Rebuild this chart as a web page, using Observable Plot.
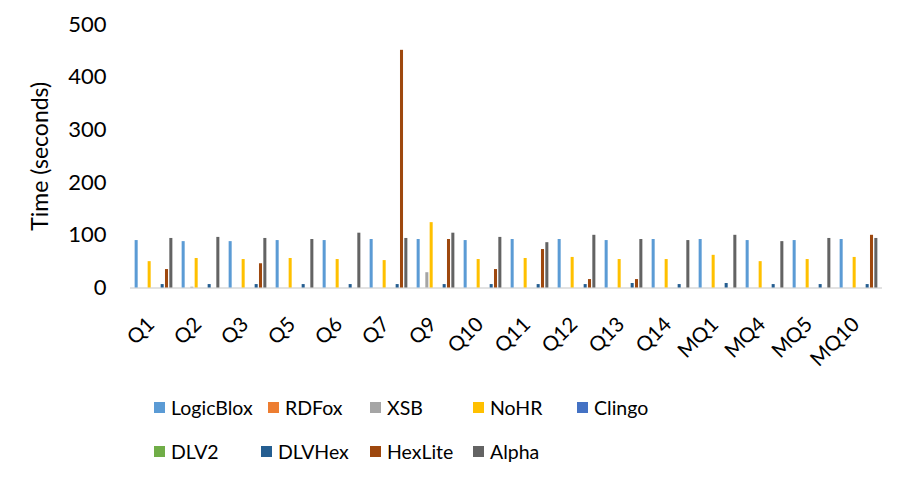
<!DOCTYPE html>
<html>
<head>
<meta charset="utf-8">
<script src="https://cdn.jsdelivr.net/npm/d3@7"></script>
<script src="https://cdn.jsdelivr.net/npm/@observablehq/plot@0.6"></script>
<style>
  html, body { margin: 0; padding: 0; background: #fff; }
  #wrap { position: relative; width: 907px; height: 479px; font-family: Lato, "Open Sans", sans-serif; }
  #chart { position: absolute; left: 0; top: 0; }
  .leg { position: absolute; display: flex; align-items: center; font-size: 19.5px; color: #000; white-space: nowrap; }
  .sw { width: 11px; height: 11px; margin-right: 6px; }
</style>
</head>
<body>
<div id="wrap"><div id="chart"></div></div>
<script>
const categories = ["Q1","Q2","Q3","Q5","Q6","Q7","Q9","Q10","Q11","Q12","Q13","Q14","MQ1","MQ4","MQ5","MQ10"];
const seriesNames = ["LogicBlox","RDFox","XSB","NoHR","Clingo","DLV2","DLVHex","HexLite","Alpha"];
const seriesColors = ["#5B9BD5","#ED7D31","#A5A5A5","#FFC000","#4472C4","#70AD47","#255E91","#9E480E","#636363"];
const yTicks = [0,100,200,300,400,500];

const LogicBlox = [90,88,88,90,90,92,92,90,92,92,90,92,92,90,90,92];
const RDFox     = [0,0,0,0,0,0,0,0,0,0,0,0,0,0,0,0];
const XSB       = [0,1.5,0,0,0,0,29,0,0,0,0,0,0,0,0,0];
const NoHR      = [50,56,54,56,54,52,124,54,56,58,54,54,62,50,54,58];
const Clingo    = [0,0,0,0,0,0,0,0,0,0,0,0,0,0,0,0];
const DLV2      = [0,0,0,0,0,0,0,0,0,0,0,0,0,0,0,0];
const DLVHex    = [6.5,6.5,6.5,6.5,6.5,6.5,6.5,6.5,6.5,6.5,8.5,6.5,8.5,6.5,6.5,6.5];
const HexLite   = [35,0,46,0,0,451,92,35,73,16,16,0,0,0,0,100];
const Alpha     = [94,96,94,92,104,94,104,96,86,100,92,90,100,88,94,94];

const seriesValues = [LogicBlox, RDFox, XSB, NoHR, Clingo, DLV2, DLVHex, HexLite, Alpha];
const data = [];
categories.forEach((c, i) => {
  seriesNames.forEach((s, j) => data.push({cat: c, series: s, value: seriesValues[j][i]}));
});

const chart = Plot.plot({
  width: 907,
  height: 385,
  marginLeft: 127,
  marginRight: 22,
  marginTop: 24,
  marginBottom: 97.5,
  style: {fontFamily: "Lato, 'Open Sans', sans-serif", color: "#000", background: "#fff"},
  fx: {domain: categories, padding: 0},
  x: {domain: seriesNames, paddingInner: 0.3, paddingOuter: 1.07, round: false, axis: null},
  y: {domain: [0, 500]},
  color: {domain: seriesNames, range: seriesColors},
  marks: [
    Plot.axisY({ticks: yTicks, tickSize: 0, tickPadding: 24, fontSize: 22, fill: "#000",
      label: "Time (seconds)", labelAnchor: "center", labelArrow: false, labelOffset: 99}),
    Plot.axisFx({anchor: "bottom", tickRotate: -45, tickSize: 0, tickPadding: 33, dx: -3, fontSize: 20.5, fill: "#000", label: null}),
    Plot.ruleY([0], {stroke: "#d9d9d9", strokeWidth: 1.5}),
    Plot.barY(data, {fx: "cat", x: "series", y: "value", fill: "series"})
  ]
});
document.getElementById("chart").appendChild(chart);
// enlarge y-axis title to match reference
chart.querySelectorAll("text").forEach(t => {
  if (t.textContent === "Time (seconds)") t.setAttribute("font-size", "23");
});

const legendPos = [[154,407],[268,407],[370,407],[473,407],[577,407],[154,451],[261,451],[370,451],[473,451]];
const wrap = document.getElementById("wrap");
seriesNames.forEach((s, j) => {
  const d = document.createElement("div");
  d.className = "leg";
  d.style.left = legendPos[j][0] + "px";
  d.style.top = (legendPos[j][1] - 12) + "px";
  d.style.height = "24px";
  d.innerHTML = `<span class="sw" style="background:${seriesColors[j]}"></span><span>${s}</span>`;
  wrap.appendChild(d);
});
</script>
</body>
</html>
